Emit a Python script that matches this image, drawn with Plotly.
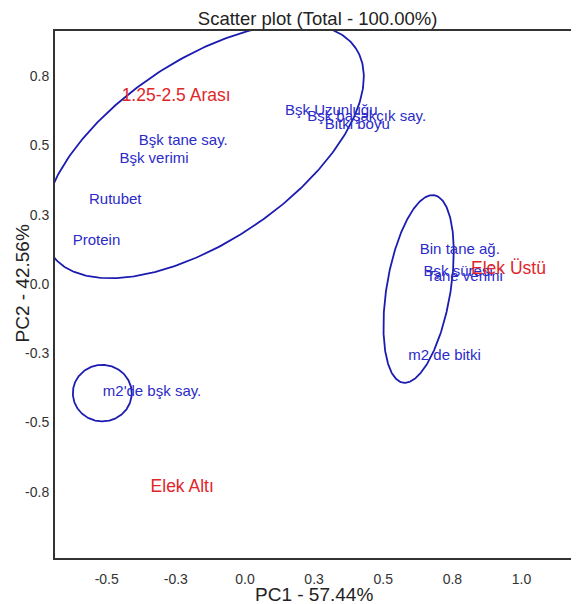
import numpy as np
import plotly.graph_objects as go

# ---- data ----
var_labels = ["Bşk tane say.", "Bşk verimi", "Rutubet", "Protein", "m2'de bşk say.",
              "Bşk Uzunluğu", "Bşk başakçık say.", "Bitki boyu",
              "Bin tane ağ.", "Bşk süresi", "Tane verimi", "m2 de bitki"]
var_pc1 = [-0.223, -0.329, -0.469, -0.537, -0.336,
           0.312, 0.440, 0.406,
           0.777, 0.771, 0.794, 0.722]
var_pc2 = [0.514, 0.451, 0.303, 0.153, -0.391,
           0.625, 0.600, 0.574,
           0.123, 0.044, 0.026, -0.262]

grp_labels = ["1.25-2.5 Arası", "Elek Üstü", "Elek Altı"]
grp_pc1 = [-0.249, 0.953, -0.227]
grp_pc2 = [0.676, 0.051, -0.736]

# ellipses: center x, center y, semi-axis a, semi-axis b, angle (deg)
ell_cx = [-0.150, 0.628, -0.516]
ell_cy = [0.480, -0.018, -0.394]
ell_a = [0.664, 0.343, 0.1065]
ell_b = [0.326, 0.1155, 0.102]
ell_ang = [34.0, 80.5, 0.0]

x_tick_vals = [-0.5, -0.25, 0.0, 0.25, 0.5, 0.75, 1.0]
x_tick_text = ["-0.5", "-0.3", "0.0", "0.3", "0.5", "0.8", "1.0"]
y_tick_vals = [-0.75, -0.5, -0.25, 0.0, 0.25, 0.5, 0.75]
y_tick_text = ["-0.8", "-0.5", "-0.3", "0.0", "0.3", "0.5", "0.8"]

FONT = "Liberation Sans, Arial, Helvetica, sans-serif"
BLUE_TXT = "#2b2bc8"
RED_TXT = "#e0262a"
ELL_COL = "#1c1cb0"

# page body has an 8px margin; size the figure so it ends at the window edge
OFF = 8
W, H = 579 - OFF, 604 - OFF

fig = go.Figure()

t = np.linspace(0, 2 * np.pi, 361)
for cx, cy, a, b, ang in zip(ell_cx, ell_cy, ell_a, ell_b, ell_ang):
    th = np.deg2rad(ang)
    ex = cx + a * np.cos(t) * np.cos(th) - b * np.sin(t) * np.sin(th)
    ey = cy + a * np.cos(t) * np.sin(th) + b * np.sin(t) * np.cos(th)
    fig.add_trace(go.Scatter(x=ex, y=ey, mode="lines",
                             line=dict(color=ELL_COL, width=1.8),
                             hoverinfo="skip", showlegend=False))

fig.add_trace(go.Scatter(x=var_pc1, y=var_pc2, mode="text", text=var_labels,
                         textposition="middle center",
                         textfont=dict(family=FONT, size=15, color=BLUE_TXT),
                         showlegend=False))
fig.add_trace(go.Scatter(x=grp_pc1, y=grp_pc2, mode="text", text=grp_labels,
                         textposition="middle center",
                         textfont=dict(family=FONT, size=17.5, color=RED_TXT),
                         showlegend=False))

fig.update_layout(
    width=W, height=H,
    margin=dict(l=55 - OFF, r=0, t=31 - OFF, b=46, autoexpand=False),
    paper_bgcolor="white", plot_bgcolor="white",
    font=dict(family=FONT, color="#333333"),
    title=dict(text="Scatter plot (Total - 100.00%)", x=(317.6 - OFF) / W, xanchor="center",
               y=1 - (19 - OFF) / H, yanchor="middle",
               font=dict(family=FONT, size=18.5, color="#222222")),
    xaxis=dict(range=[-0.687, 1.208], tickvals=x_tick_vals, ticktext=x_tick_text,
               showgrid=False, zeroline=False, showline=True, linecolor="#333333",
               linewidth=2, mirror=True, ticks="", ticklabelstandoff=7, automargin=False,
               tickfont=dict(family=FONT, size=14, color="#333333")),
    yaxis=dict(range=[-0.989, 0.913], tickvals=y_tick_vals, ticktext=y_tick_text,
               showgrid=False, zeroline=False, showline=True, linecolor="#333333",
               linewidth=2, ticks="", ticklabelstandoff=1, automargin=False,
               tickfont=dict(family=FONT, size=14, color="#333333")),
    annotations=[
        dict(text="PC1 - 57.44%", xref="paper", yref="paper", x=(314 - 55) / 524, y=0,
             yshift=-36, xanchor="center", yanchor="middle", showarrow=False,
             font=dict(family=FONT, size=19, color="#222222")),
        dict(text="PC2 - 42.56%", xref="paper", yref="paper", x=0, y=(558 - 283.5) / 527,
             xshift=-33, xanchor="center", yanchor="middle", textangle=-90, showarrow=False,
             font=dict(family=FONT, size=19, color="#222222")),
    ],
)

fig.write_html("out.html")
